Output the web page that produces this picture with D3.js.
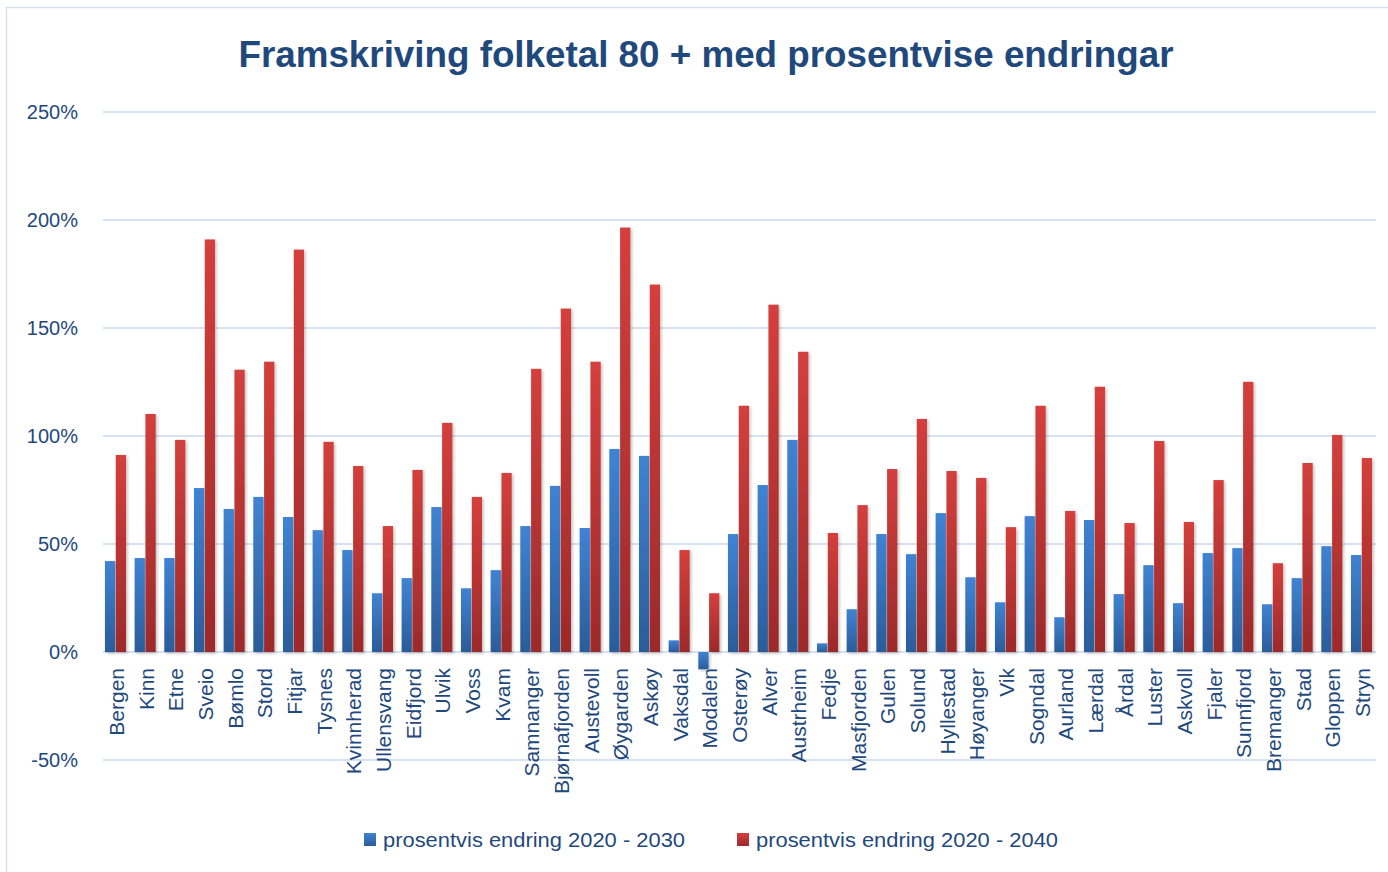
<!DOCTYPE html>
<html>
<head>
<meta charset="utf-8">
<script src="https://cdn.jsdelivr.net/npm/d3@7"></script>
<style>
  body { margin: 0; background: #fff; }
  text { font-family: "Liberation Sans", Arial, sans-serif; fill: #1f497d; }
</style>
</head>
<body>
<svg width="1388" height="872"></svg>
<script>
// municipalities (x axis)
var kommunar = ["Bergen", "Kinn", "Etne", "Sveio", "Bømlo", "Stord", "Fitjar", "Tysnes", "Kvinnherad",
  "Ullensvang", "Eidfjord", "Ulvik", "Voss", "Kvam", "Samnanger", "Bjørnafjorden", "Austevoll",
  "Øygarden", "Askøy", "Vaksdal", "Modalen", "Osterøy", "Alver", "Austrheim", "Fedje", "Masfjorden",
  "Gulen", "Solund", "Hyllestad", "Høyanger", "Vik", "Sogndal", "Aurland", "Lærdal", "Årdal",
  "Luster", "Askvoll", "Fjaler", "Sunnfjord", "Bremanger", "Stad", "Gloppen", "Stryn"];

// prosentvis endring 2020 - 2030
var endring2030 = [42.1, 43.5, 43.5, 75.9, 66.2, 71.8, 62.5, 56.4, 47.2, 27.2, 34.2, 67.1, 29.5, 37.9,
  58.3, 76.9, 57.4, 94.0, 90.8, 5.4, -8.0, 54.6, 77.3, 98.2, 4.0, 19.8, 54.6, 45.3, 64.3, 34.6,
  23.0, 62.9, 16.1, 61.1, 26.8, 40.2, 22.6, 45.8, 48.1, 22.1, 34.2, 49.0, 44.9];

// prosentvis endring 2020 - 2040
var endring2040 = [91.2, 110.2, 98.2, 191.0, 130.7, 134.4, 186.3, 97.3, 86.1, 58.3, 84.3, 106.1, 71.8, 82.9,
  131.1, 159.0, 134.4, 196.5, 170.1, 47.2, 27.2, 114.0, 160.8, 139.0, 55.1, 68.0, 84.7, 107.9, 83.8, 80.6,
  57.8, 114.0, 65.3, 122.8, 59.7, 97.7, 60.2, 79.6, 125.1, 41.1, 87.5, 100.5, 89.8];

var serieNamn = ["prosentvis endring 2020 - 2030", "prosentvis endring 2020 - 2040"];
var yTicks = [-50, 0, 50, 100, 150, 200, 250];

var data = kommunar.map(function(k, i) {
  return {namn: k, verdiar: [endring2030[i], endring2040[i]]};
});

var svg = d3.select("svg");

// gradients for the bars
var defs = svg.append("defs");
var grads = [["gBlue", "#4083d3", "#2b5c99"], ["gRed", "#d43f3c", "#9c2a2b"]];
grads.forEach(function(g) {
  var lg = defs.append("linearGradient").attr("id", g[0])
      .attr("x1", 0).attr("y1", 0).attr("x2", 0).attr("y2", 1);
  lg.append("stop").attr("offset", "0%").attr("stop-color", g[1]);
  lg.append("stop").attr("offset", "100%").attr("stop-color", g[2]);
});
var shadow = defs.append("filter").attr("id", "shadow")
    .attr("x", "-30%").attr("y", "-5%").attr("width", "160%").attr("height", "115%");
shadow.append("feDropShadow").attr("dx", 1.5).attr("dy", 1.5).attr("stdDeviation", 1.5)
    .attr("flood-color", "#000").attr("flood-opacity", 0.25);

// outer border
svg.append("rect")
    .attr("x", 6.5).attr("y", 7.5).attr("width", 1400).attr("height", 900)
    .attr("fill", "none").attr("stroke", "#d6e2f3").attr("stroke-width", 1.5);

// title
svg.append("text")
    .attr("x", 706).attr("y", 67)
    .attr("text-anchor", "middle")
    .attr("textLength", 935).attr("lengthAdjust", "spacingAndGlyphs")
    .style("font-size", "37px").style("font-weight", "bold")
    .style("fill", "#1f497d")
    .text("Framskriving folketal 80 + med prosentvise endringar");

// scales
var y = d3.scaleLinear().domain([-50, 250]).range([760, 112]);
var x0 = d3.scaleBand().domain(kommunar).range([102, 1375])
    .paddingInner(0.29).paddingOuter(0.1);
var x1 = d3.scaleBand().domain([0, 1]).range([0, x0.bandwidth()]).paddingInner(0.05);
var fills = ["url(#gBlue)", "url(#gRed)"];

// gridlines
svg.append("g").selectAll("line")
    .data(yTicks)
  .enter().append("line")
    .attr("x1", 103).attr("x2", 1376)
    .attr("y1", function(d) { return y(d); })
    .attr("y2", function(d) { return y(d); })
    .attr("stroke", "#d6e2f3").attr("stroke-width", 2);

// y axis labels
var yAxis = d3.axisLeft(y).tickValues(yTicks).tickSize(0).tickPadding(0)
    .tickFormat(function(d) { return d + "%"; });
var yg = svg.append("g").attr("transform", "translate(78,0)").call(yAxis);
yg.select(".domain").remove();
yg.selectAll("text").style("font-size", "20px").style("fill", "#1f497d")
    .attr("font-family", null);

// bars
var grupper = svg.append("g").selectAll(".gruppe")
    .data(data)
  .enter().append("g")
    .attr("class", "gruppe")
    .attr("transform", function(d) { return "translate(" + x0(d.namn) + ",0)"; });

grupper.selectAll("rect")
    .data(function(d) { return d.verdiar; })
  .enter().append("rect")
    .attr("x", function(d, i) { return x1(i); })
    .attr("width", x1.bandwidth())
    .attr("y", function(d) { return y(Math.max(0, d)); })
    .attr("height", function(d) { return Math.abs(y(d) - y(0)); })
    .attr("fill", function(d, i) { return fills[i]; })
    .attr("filter", "url(#shadow)");

// x labels (rotated)
svg.append("g").selectAll("text")
    .data(kommunar)
  .enter().append("text")
    .attr("transform", function(d) {
      return "translate(" + (x0(d) + x0.bandwidth() / 2 + 1) + ",668) rotate(-90)";
    })
    .attr("text-anchor", "end")
    .attr("dy", "0.35em")
    .style("font-size", "21px")
    .text(function(d) { return d; });

// legend
var legendX = [364, 737];
var legend = svg.append("g").selectAll(".legend")
    .data(serieNamn)
  .enter().append("g")
    .attr("class", "legend")
    .attr("transform", function(d, i) { return "translate(" + legendX[i] + ",833)"; });

legend.append("rect")
    .attr("width", 12).attr("height", 13)
    .attr("fill", function(d, i) { return fills[i]; });

legend.append("text")
    .attr("x", 19).attr("y", 14)
    .attr("textLength", 302).attr("lengthAdjust", "spacingAndGlyphs")
    .style("font-size", "20px")
    .text(function(d) { return d; });
</script>
</body>
</html>
